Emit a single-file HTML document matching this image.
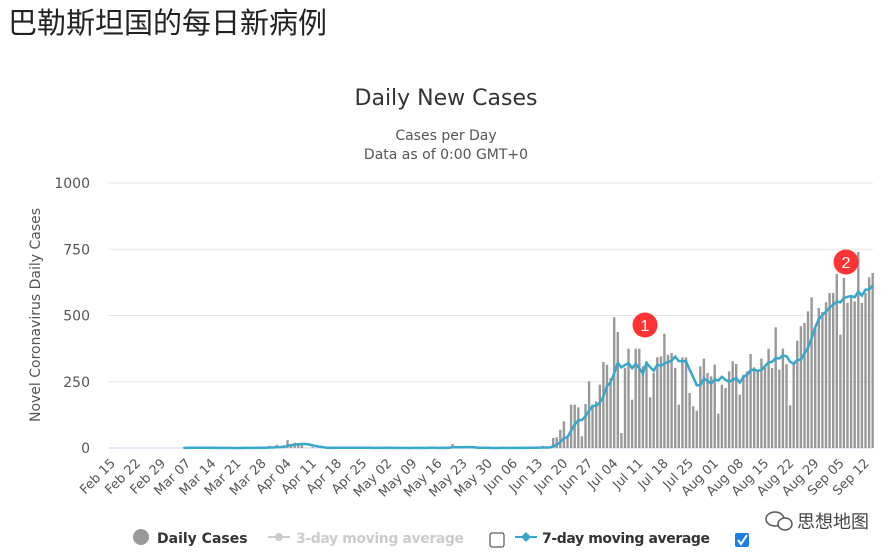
<!DOCTYPE html>
<html><head><meta charset="utf-8"><style>
body{margin:0;background:#fff;width:881px;height:560px;overflow:hidden;font-family:"Liberation Sans","DejaVu Sans","Noto Sans CJK SC",sans-serif}
</style></head><body>
<svg id="s" width="881" height="560" xmlns="http://www.w3.org/2000/svg" style="position:absolute;left:0;top:0">
<text x="8" y="33" font-size="29" fill="#222" font-family="Noto Sans CJK SC,sans-serif">巴勒斯坦国的每日新病例</text>
<text x="446" y="105" font-size="22" fill="#333" text-anchor="middle" font-family="DejaVu Sans,sans-serif">Daily New Cases</text>
<text x="446" y="140" font-size="14" fill="#555" text-anchor="middle" font-family="DejaVu Sans,sans-serif">Cases per Day</text>
<text x="446" y="159" font-size="14" fill="#555" text-anchor="middle" font-family="DejaVu Sans,sans-serif">Data as of 0:00 GMT+0</text>
<text transform="translate(40,315) rotate(-90)" font-size="14" fill="#555" text-anchor="middle" font-family="DejaVu Sans,sans-serif">Novel Coronavirus Daily Cases</text>
<g id="g"></g>
<g font-family="DejaVu Sans,sans-serif" font-size="14" font-weight="bold">
<circle cx="141" cy="537" r="8" fill="#999"/>
<text x="157" y="543" fill="#333">Daily Cases</text>
<line x1="268" y1="537" x2="290" y2="537" stroke="#ccc" stroke-width="2"/><circle cx="279" cy="537" r="4" fill="#ccc"/>
<text x="296" y="543" fill="#ccc" textLength="168">3-day moving average</text>
<rect x="490" y="533" width="14" height="14" rx="2" fill="#fff" stroke="#333"/>
<line x1="515" y1="537" x2="537" y2="537" stroke="#39a6cc" stroke-width="2"/><path d="M526 532 L531 537 L526 542 L521 537Z" fill="#39a6cc"/>
<text x="542" y="543" fill="#333" textLength="168">7-day moving average</text>
<rect x="735" y="533" width="14" height="14" rx="2" fill="#1e7ee6"/>
<path d="M738 540 L741 544 L747 535" stroke="#fff" stroke-width="2" fill="none"/>
</g>
<g>
<ellipse cx="775" cy="519" rx="9" ry="7" fill="none" stroke="#555" stroke-width="1.5"/>
<ellipse cx="785" cy="524" rx="7" ry="6" fill="#fff" stroke="#555" stroke-width="1.5"/>
<text x="797" y="528" font-size="18" fill="#444" font-family="Noto Sans CJK SC,sans-serif">思想地图</text>
</g>
</svg>
<script>
var g=document.getElementById('g'),h='';
var X0=108,DW=3.59,Y0=448,K=0.265;
[0,250,500,750,1000].forEach(function(v,i){var y=Y0-v*K;
 h+='<line x1="108" x2="873" y1="'+y+'" y2="'+y+'" stroke="'+(i==0?'#ccd6eb':'#e6e6e6')+'"/>';
 h+='<text x="90" y="'+(y+5)+'" font-size="14" fill="#555" text-anchor="end" font-family="DejaVu Sans,sans-serif">'+v+'</text>';});
var labs=['Feb 15','Feb 22','Feb 29','Mar 07','Mar 14','Mar 21','Mar 28','Apr 04','Apr 11','Apr 18','Apr 25','May 02','May 09','May 16','May 23','May 30','Jun 06','Jun 13','Jun 20','Jun 27','Jul 04','Jul 11','Jul 18','Jul 25','Aug 01','Aug 08','Aug 15','Aug 22','Aug 29','Sep 05','Sep 12'];
labs.forEach(function(l,i){var x=112+i*7*DW;
 h+='<text transform="translate('+(x+4)+',464) rotate(-45)" font-size="13" fill="#555" text-anchor="end" font-family="DejaVu Sans,sans-serif">'+l+'</text>';});
var d=[];for(var i=0;i<214;i++)d.push(0);
var early={21:2,22:1,23:3,28:2,30:1,38:3,42:5,45:8,47:12,49:10,50:30,51:15,52:20,53:12,54:18,57:3,62:4,67:5,72:3,77:2,85:3,90:2,95:4,96:15,100:4,110:3,117:5,121:8};
for(var k in early)d[+k]=early[k];
var z=[590,588,565,540,585,490,490,498,585,488,420,490,480,430,362,370,410,228,272,575,380,322,475,322,322,375,360,468,395,348,345,277,340,335,380,490,348,348,455,495,508,375,352,395,405,370,517,430,440,390,360,368,460,400,390,338,378,385,352,378,322,380,258,385,322,368,492,368,298,255,245,210,168,260,200,212,183,155,155,98,280,110,185,168,180,32,185,155,108,95];
z.forEach(function(zy,j){var di=124+j;if(di<214)d[di]=Math.max(0,(620-zy)*1.258);});
for(var i=0;i<214;i++){if(d[i]>0){var x=X0+i*DW,hh=d[i]*K;h+='<rect x="'+(x-1.2).toFixed(1)+'" y="'+(Y0-hh).toFixed(1)+'" width="2.4" height="'+hh.toFixed(1)+'" fill="#999"/>';}}
var pts=[];for(var i=21;i<214;i++){var s=0;for(var j=i-6;j<=i;j++)s+=d[j]||0;pts.push((X0+i*DW).toFixed(1)+','+(Y0-s/7*K).toFixed(1));}
h+='<polyline points="'+pts.join(' ')+'" fill="none" stroke="#39a6cc" stroke-width="2.5"/>';
h+='<circle cx="645" cy="325" r="12.5" fill="#f33"/><text x="645" y="331" font-size="16" fill="#fff" text-anchor="middle">1</text>';
h+='<circle cx="846" cy="262" r="12.5" fill="#f33"/><text x="846" y="268" font-size="16" fill="#fff" text-anchor="middle">2</text>';
g.innerHTML=h;
</script>
</body></html>
